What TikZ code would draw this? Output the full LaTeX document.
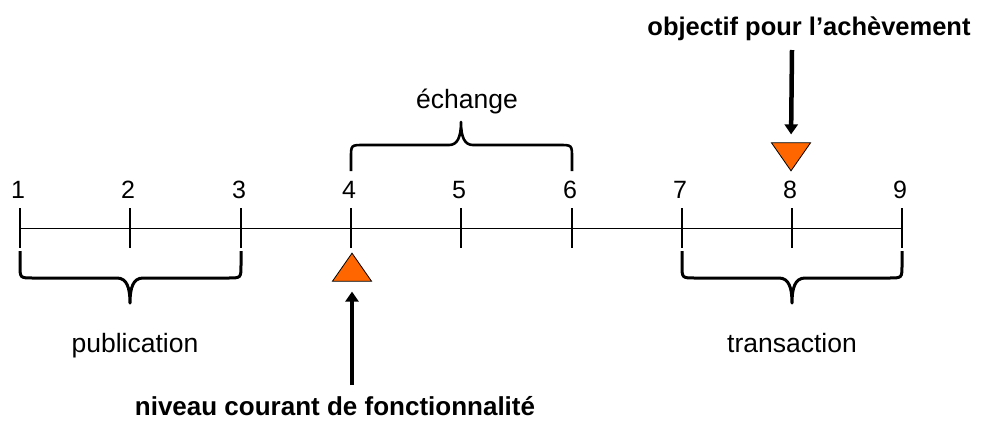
\documentclass[tikz,border=0pt]{standalone}
\usepackage{fontspec}
\setmainfont{Liberation Sans}
\usetikzlibrary{arrows.meta,shapes.geometric}
\definecolor{trifill}{HTML}{FF6600}
\begin{document}
\begin{tikzpicture}[x=1pt,y=-1pt,
  lbl/.style={font=\fontsize{26.5}{30}\selectfont, anchor=base, inner sep=0},
  boldlbl/.style={font=\fontsize{25.5}{30}\selectfont\bfseries, anchor=base, inner sep=0},
  num/.style={font=\fontsize{25}{30}\selectfont, anchor=base, inner sep=0},
  tickline/.style={line width=1.3pt},
  axisline/.style={line width=1pt},
  lbrace/.style={line width=3pt, line join=round},
  ubrace/.style={line width=2.6pt, line join=round},
  bigarrow/.style={line width=4.5pt, -{Triangle[width=13pt,length=10pt]}},
  marker/.style={draw=black, line width=0.8pt, fill=trifill, isosceles triangle,
    isosceles triangle stretches, inner sep=0, minimum width=39pt, minimum height=28pt}
]
\useasboundingbox (0,0) rectangle (987,421);

% axis
\draw[axisline] (20,228) -- (902,228);
\foreach \i/\x in {1/20,2/130,3/241,4/351,5/461,6/572,7/682,8/792,9/902}{
  \draw[tickline] (\x,208) -- (\x,248);
  \node[num] (n\i) at (\x-2,198) {\i};
}

% lower braces
\draw[lbrace] (20,251) -- (20,265) .. controls (20,278) .. (33,278) -- (117,278)
  .. controls (127,278) and (130,288) .. (130,303)
  .. controls (130,288) and (133,278) .. (143,278) -- (228,278)
  .. controls (241,278) .. (241,265) -- (241,251);
\draw[lbrace] (682,251) -- (682,265) .. controls (682,278) .. (695,278) -- (779,278)
  .. controls (789,278) and (792,288) .. (792,303)
  .. controls (792,288) and (795,278) .. (805,278) -- (889,278)
  .. controls (902,278) .. (902,265) -- (902,251);

% upper brace
\draw[ubrace] (351,171) -- (351,158) .. controls (351,145) .. (364,145) -- (449,145)
  .. controls (457,145) and (461,138) .. (461,122)
  .. controls (461,138) and (465,145) .. (473,145) -- (559,145)
  .. controls (572,145) .. (572,158) -- (572,171);

% labels
\node[lbl] (pub) at (135,352) {publication};
\node[lbl] (trans) at (792,352) {transaction};
\node[lbl] (ech) at (467,108) {échange};
\node[boldlbl, font=\fontsize{26}{30}\selectfont\bfseries] (niv) at (335,415) {niveau courant de fonctionnalité};
\node[boldlbl] (obj) at (809,35) {objectif pour l’achèvement};

% markers
\node[marker, shape border rotate=90] (t4) at (352,271) {};
\node[marker, shape border rotate=270] (t8) at (791,153) {};

% arrows
\coordinate (a4) at (352,385);
\coordinate (a8) at (792,50);
\draw[bigarrow, shorten >=10pt] (a4) -- (t4.lower side);
\draw[bigarrow, shorten >=8pt] (a8) -- (t8.lower side);
\end{tikzpicture}
\end{document}
